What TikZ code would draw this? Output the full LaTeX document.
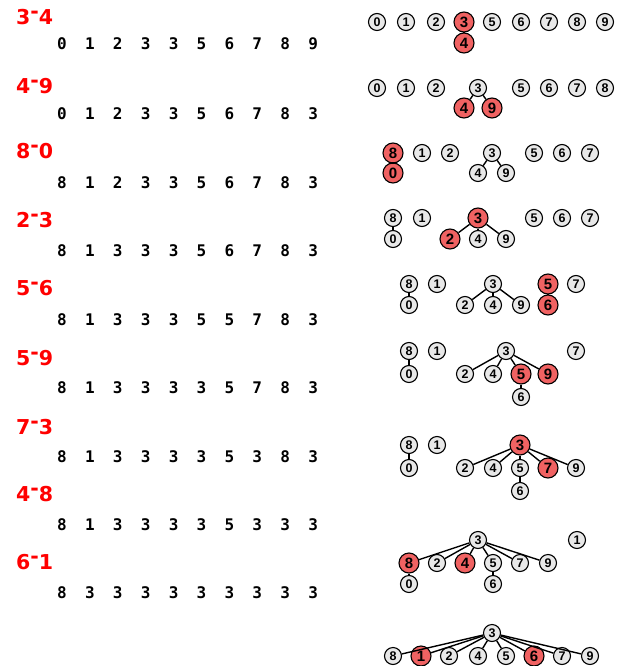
\documentclass[tikz,border=0pt]{standalone}
\usepackage{fontspec}
\newfontfamily\nodefont{Liberation Sans}
\newfontfamily\rowfont{DejaVu Sans Mono}
\newfontfamily\labfont{DejaVu Sans}
\definecolor{ngray}{RGB}{232,232,232}
\definecolor{nred}{RGB}{240,98,98}
\definecolor{lred}{RGB}{255,0,0}
\tikzset{
  gn/.style={circle,draw=black,line width=1.1pt,fill=ngray,minimum size=17pt,inner sep=0pt,
    font=\nodefont\bfseries\fontsize{12.5}{12.5}\selectfont},
  rn/.style={circle,draw=black,line width=1.1pt,fill=nred,minimum size=20pt,inner sep=0pt,
    font=\nodefont\bfseries\fontsize{15}{15}\selectfont},
  conn/.style={draw=black,line width=1.4pt},
  oplab/.style={anchor=west,inner sep=0pt,text depth=0pt,text height=14.9pt,text=lred,
    font=\labfont\bfseries\fontsize{20.5}{20.5}\selectfont},
  cell/.style={inner sep=0pt,text depth=0pt,text height=11.7pt,
    font=\rowfont\bfseries\fontsize{16}{16}\selectfont}
}
\newcommand\oplabel[3]{\node[oplab] (#1) at (16,#2) {#3};}
\newcommand\idrow[3]{%
  \foreach \v [count=\j from 0] in {#3} {\node[cell] (#1c\j) at ({62+27.9*\j},#2) {\v};}}
\begin{document}
\begin{tikzpicture}[x=1pt,y=-1pt]
\useasboundingbox (0,0) rectangle (620,666);
% operation labels
\oplabel{l1}{17}{3\raisebox{0.3em}{-}4}
\oplabel{l2}{86}{4\raisebox{0.3em}{-}9}
\oplabel{l3}{151}{8\raisebox{0.3em}{-}0}
\oplabel{l4}{220}{2\raisebox{0.3em}{-}3}
\oplabel{l5}{288}{5\raisebox{0.3em}{-}6}
\oplabel{l6}{358}{5\raisebox{0.3em}{-}9}
\oplabel{l7}{427}{7\raisebox{0.3em}{-}3}
\oplabel{l8}{494}{4\raisebox{0.3em}{-}8}
\oplabel{l9}{562}{6\raisebox{0.3em}{-}1}
% id[] rows
\idrow{r1}{44}{0,1,2,3,3,5,6,7,8,9}
\idrow{r2}{114}{0,1,2,3,3,5,6,7,8,3}
\idrow{r3}{183}{8,1,2,3,3,5,6,7,8,3}
\idrow{r4}{251}{8,1,3,3,3,5,6,7,8,3}
\idrow{r5}{320}{8,1,3,3,3,5,5,7,8,3}
\idrow{r6}{388}{8,1,3,3,3,3,5,7,8,3}
\idrow{r7}{457}{8,1,3,3,3,3,5,3,8,3}
\idrow{r8}{525}{8,1,3,3,3,3,5,3,3,3}
\idrow{r9}{593}{8,3,3,3,3,3,3,3,3,3}
% tree 1
\foreach \n/\x/\y/\s in {0/377/22/gn,1/406/22/gn,2/436/22/gn,3/464/22/rn,5/492/22/gn,6/521/22/gn,7/549/22/gn,8/577/22/gn,9/605/22/gn,4/464/43/rn}
  \node[\s] (a\n) at (\x,\y) {\n};
\foreach \p/\c in {3/4} \draw[conn] (a\p) -- (a\c);
% tree 2
\foreach \n/\x/\y/\s in {0/377/88/gn,1/406/88/gn,2/436/88/gn,3/478/88/gn,5/521/88/gn,6/549/88/gn,7/577/88/gn,8/605/88/gn,4/464/108/rn,9/492/108/rn}
  \node[\s] (b\n) at (\x,\y) {\n};
\foreach \p/\c in {3/4,3/9} \draw[conn] (b\p) -- (b\c);
% tree 3
\foreach \n/\x/\y/\s in {8/393/153/rn,0/393/173/rn,1/422/153/gn,2/450/153/gn,3/492/153/gn,4/478/173/gn,9/506/173/gn,5/534/153/gn,6/562/153/gn,7/590/153/gn}
  \node[\s] (c\n) at (\x,\y) {\n};
\foreach \p/\c in {8/0,3/4,3/9} \draw[conn] (c\p) -- (c\c);
% tree 4
\foreach \n/\x/\y/\s in {8/393/218/gn,0/393/239/gn,1/422/218/gn,3/478/218/rn,2/450/239/rn,4/478/239/gn,9/506/239/gn,5/534/218/gn,6/562/218/gn,7/590/218/gn}
  \node[\s] (d\n) at (\x,\y) {\n};
\foreach \p/\c in {8/0,3/2,3/4,3/9} \draw[conn] (d\p) -- (d\c);
% tree 5
\foreach \n/\x/\y/\s in {8/409/284/gn,0/409/305/gn,1/437/284/gn,3/493/284/gn,2/465/305/gn,4/493/305/gn,9/521/305/gn,5/548/284/rn,6/548/305/rn,7/576/284/gn}
  \node[\s] (e\n) at (\x,\y) {\n};
\foreach \p/\c in {8/0,3/2,3/4,3/9,5/6} \draw[conn] (e\p) -- (e\c);
% tree 6
\foreach \n/\x/\y/\s in {8/409/351/gn,0/409/374/gn,1/437/351/gn,3/506/351/gn,2/465/374/gn,4/493/374/gn,5/521/374/rn,9/548/374/rn,6/521/397/gn,7/576/351/gn}
  \node[\s] (f\n) at (\x,\y) {\n};
\foreach \p/\c in {8/0,3/2,3/4,3/5,3/9,5/6} \draw[conn] (f\p) -- (f\c);
% tree 7
\foreach \n/\x/\y/\s in {8/409/445/gn,0/409/468/gn,1/437/445/gn,3/520/445/rn,2/465/468/gn,4/493/468/gn,5/520/468/gn,7/548/468/rn,9/576/468/gn,6/520/491/gn}
  \node[\s] (g\n) at (\x,\y) {\n};
\foreach \p/\c in {8/0,3/2,3/4,3/5,3/7,3/9,5/6} \draw[conn] (g\p) -- (g\c);
% tree 8
\foreach \n/\x/\y/\s in {3/478/540/gn,1/577/540/gn,8/409/563/rn,2/437/563/gn,4/465/563/rn,5/493/563/gn,7/520/563/gn,9/548/563/gn,0/409/584/gn,6/493/584/gn}
  \node[\s] (h\n) at (\x,\y) {\n};
\foreach \p/\c in {3/8,3/2,3/4,3/5,3/7,3/9,8/0,5/6} \draw[conn] (h\p) -- (h\c);
% tree 9
\foreach \n/\x/\y/\s in {3/492/633/gn,8/393/656/gn,1/421/656/rn,2/449/656/gn,4/478/656/gn,5/506/656/gn,6/534/656/rn,7/562/656/gn,9/590/656/gn}
  \node[\s] (k\n) at (\x,\y) {\n};
\foreach \p/\c in {3/8,3/1,3/2,3/4,3/5,3/6,3/7,3/9} \draw[conn] (k\p) -- (k\c);
\end{tikzpicture}
\end{document}
